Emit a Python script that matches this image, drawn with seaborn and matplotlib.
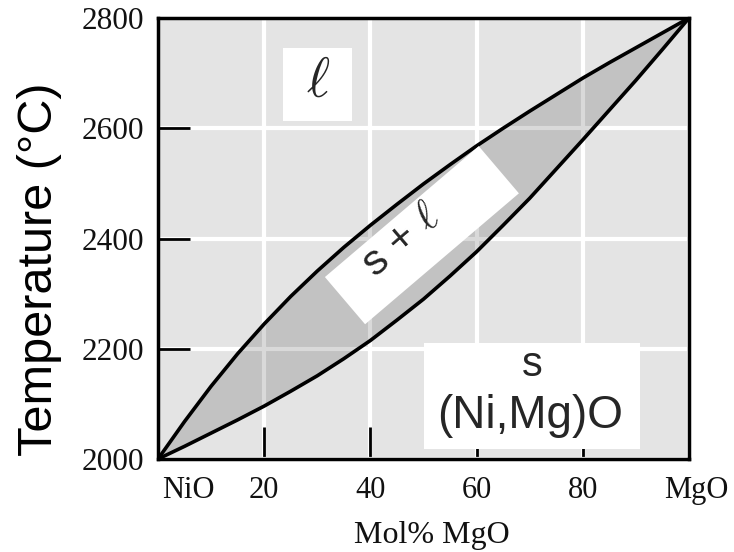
import matplotlib
matplotlib.use("Agg")
import matplotlib.pyplot as plt
import seaborn as sns
import pandas as pd
from matplotlib.patches import Rectangle
from matplotlib.transforms import Affine2D, ScaledTranslation

# ---- data ----
mol_mgo = [0, 5, 10, 15, 20, 25, 30, 35, 40, 45, 50, 55, 60, 65, 70, 75, 80, 85, 90, 95, 100]
liquidus = [2000, 2068, 2132, 2191, 2245, 2295, 2341, 2384, 2424, 2462, 2499, 2534, 2568,
            2600, 2631, 2661, 2691, 2719, 2746, 2773, 2800]
solidus = [2000, 2023, 2047, 2071, 2096, 2123, 2151, 2182, 2215, 2252, 2290, 2332, 2376,
           2424, 2473, 2526, 2579, 2633, 2687, 2743, 2800]
x_ticks = [0, 20, 40, 60, 80, 100]
x_tick_labels = ["NiO", "20", "40", "60", "80", "MgO"]
y_ticks = [2000, 2200, 2400, 2600, 2800]
y_tick_labels = ["2000", "2200", "2400", "2600", "2800"]

sns.set_theme(style="darkgrid", rc={
    "axes.facecolor": "#e4e4e4",
    "grid.color": "white",
    "grid.linewidth": 3,
})
plt.rcParams["font.family"] = ["Liberation Sans", "DejaVu Sans"]
plt.rcParams["mathtext.fontset"] = "cm"

fig = plt.figure(figsize=(7.34, 5.52), dpi=100)
ax = fig.add_axes([158 / 734, 1 - 459 / 552, (689 - 158) / 734, (459 - 18) / 552])

df = pd.DataFrame({"mol": mol_mgo, "liq": liquidus, "sol": solidus})
ax.fill_between(df["mol"], df["sol"], df["liq"], color="black", alpha=0.15, linewidth=0, zorder=2)
sns.lineplot(data=df, x="mol", y="liq", color="black", linewidth=2.6, ax=ax, zorder=3, sort=False, estimator=None)
sns.lineplot(data=df, x="mol", y="sol", color="black", linewidth=2.6, ax=ax, zorder=3, sort=False, estimator=None)

ax.set_xlim(0, 100)
ax.set_ylim(2000, 2800)
ax.set_xticks(x_ticks)
ax.set_yticks(y_ticks)
serif = ["Liberation Serif", "DejaVu Serif"]
ax.set_xticklabels(x_tick_labels, family=serif, fontsize=22)
ax.set_yticklabels(y_tick_labels, family=serif, fontsize=22.5)
ax.tick_params(axis="both", direction="in", length=23, width=2, color="black",
               bottom=True, left=True, labelcolor="#111111")
ax.tick_params(axis="x", pad=12)
ax.tick_params(axis="y", pad=10)
lbls = ax.get_xticklabels()
lbls[0].set_horizontalalignment("left")
lbls[0].set_transform(lbls[0].get_transform() + Affine2D().translate(4, 0))
lbls[-1].set_transform(lbls[-1].get_transform() + Affine2D().translate(7, 0))

for s in ax.spines.values():
    s.set_color("black")
    s.set_linewidth(2.5)
    s.set_visible(True)

ax.set_xlabel("Mol% MgO", family=serif, fontsize=23, color="#111111")
ax.set_ylabel("Temperature (°C)", fontsize=35, color="black")
ax.xaxis.set_label_coords(0.516, -0.140)
ax.yaxis.set_label_coords(-0.180, 0.43)

# ---- label boxes ----
# liquid
ax.add_patch(Rectangle((23.6, 2613), 13.0, 133, facecolor="white", edgecolor="none", zorder=5))
ax.text(30.2, 2682, r"$\ell$", fontsize=40, ha="center", va="center", zorder=6)

# s + l (rotated)
ang = 40.4
box_tr = Affine2D().rotate_deg(ang) + ScaledTranslation(49.7, 2406, ax.transData)
ax.add_patch(Rectangle((-101, -31), 202, 62, facecolor="white", edgecolor="none",
                       transform=box_tr, zorder=5))
ax.text(45.8, 2396, r"s + $\ell$", fontsize=31, rotation=ang, rotation_mode="anchor",
        ha="center", va="center", zorder=6)

# solid
ax.add_patch(Rectangle((50.1, 2018), 40.7, 192, facecolor="white", edgecolor="none", zorder=5))
ax.text(70.4, 2170, "s", fontsize=30, ha="center", va="center", zorder=6)
ax.text(70.0, 2078, "(Ni,Mg)O", fontsize=33, ha="center", va="center", zorder=6)

fig.savefig("out.png", dpi=100)
